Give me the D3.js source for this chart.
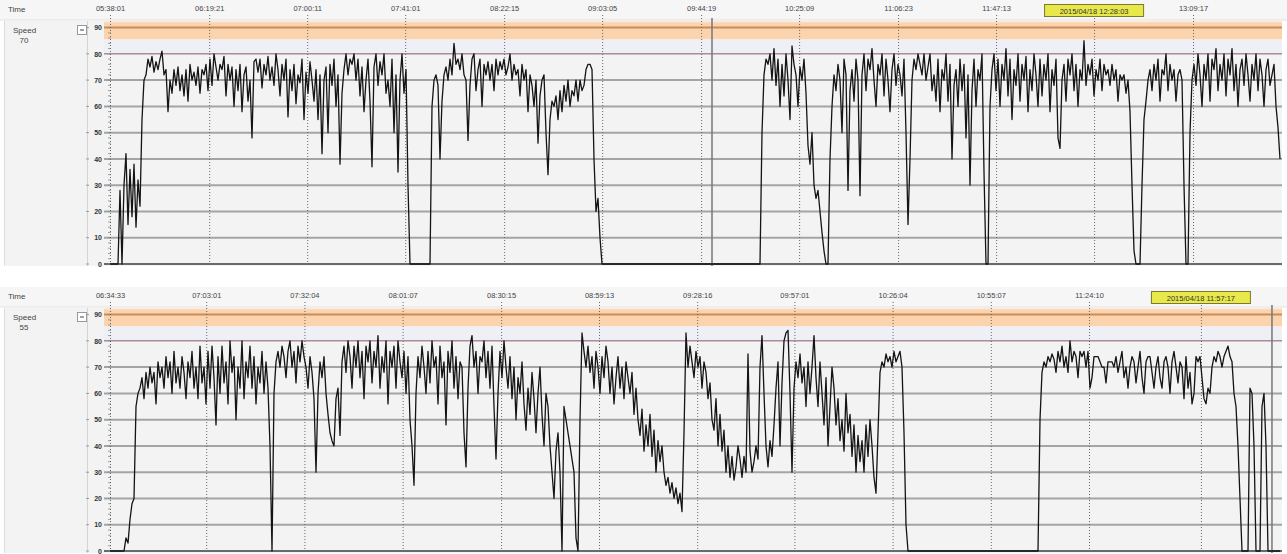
<!DOCTYPE html>
<html>
<head>
<meta charset="utf-8">
<script src="https://cdn.jsdelivr.net/npm/d3@7"></script>
<style>
  body { margin: 0; background: #fff; }
  text { font-family: "Liberation Sans", Arial, sans-serif; }
</style>
</head>
<body>
<div id="chart"></div>
<script>
// speed log, panel 1: one sample every 50 s from 05:38:01
const startA = '05:38:01';
const stepA = 50;
const speedA = [
  0,0,0,0,0,
  28,0,30,42,15,36,18,38,14,32,22,55,70,
  72,78,75,79,73,77,74,78,81,72,
  74,58,70,65,74,68,75,66,72,64,
  74,62,76,70,73,68,75,65,74,72,
  76,66,78,68,80,75,70,76,74,79,
  64,76,70,75,60,74,66,76,58,72,
  75,62,70,48,77,78,73,78,67,76,
  72,79,70,75,68,80,74,64,76,70,
  78,56,74,66,76,61,72,69,78,55,
  73,65,77,70,62,74,55,72,42,70,
  75,50,76,68,78,60,72,38,65,74,
  80,72,78,76,80,70,78,64,75,58,
  70,78,62,37,75,80,68,77,72,80,
  65,70,60,78,50,72,35,70,80,65,
  74,30,
  0,0,0,0,0,0,0,0,0,0,0,
  60,70,72,68,40,62,72,75,70,78,
  72,84,76,78,74,80,72,70,47,68,
  78,80,66,74,78,60,76,72,77,70,
  76,66,78,72,77,74,78,72,75,80,
  70,76,72,74,64,76,70,74,58,72,
  68,60,70,46,64,70,72,50,34,55,
  62,60,64,55,66,58,68,62,70,60,
  66,64,70,62,70,66,68,74,76,76,
  74,40,20,25,10,
  0,0,0,0,0,0,0,0,0,0, 0,0,0,0,0,0,0,0,0,0,
  0,0,0,0,0,0,0,0,0,0, 0,0,0,0,0,0,0,0,0,0,
  0,0,0,0,0,0,0,0,0,0, 0,0,0,0,0,0,0,0,0,0,
  0,0,0,0,0,0,0,0,0,0, 0,0,0,0,0,0,0,0,0,0,
  50,72,78,76,80,70,82,68,78,60,
  76,64,80,70,55,83,76,72,60,75,
  70,78,65,45,38,50,30,25,28,20,
  12,5,0,0,40,60,72,66,76,70,
  50,78,72,28,66,74,62,78,70,26,
  72,80,66,78,74,82,70,60,76,72,
  80,64,78,70,58,74,80,68,76,72,
  64,78,50,15,40,70,78,74,80,76,
  72,80,70,75,80,66,72,62,78,58,
  74,70,80,62,76,40,68,74,60,78,
  66,76,48,72,30,66,78,60,74,70,
  80,35,0,0,60,74,80,66,78,60,
  76,70,82,64,78,55,74,68,80,62,
  76,70,79,58,74,66,80,72,60,78,
  64,76,70,80,58,74,68,78,48,44,
  70,76,62,78,72,80,66,76,60,74,
  70,85,68,76,72,78,64,74,70,78,
  66,76,72,74,68,76,70,74,62,72,
  70,72,65,70,58,30,5,0,0,0,
  30,55,62,70,74,66,76,70,78,62,
  74,72,80,66,76,70,74,62,72,74,
  70,30,0,0,50,70,76,68,80,72,
  60,76,70,80,62,78,74,82,66,76,
  70,80,64,78,72,82,66,76,60,74,
  78,68,80,72,62,76,70,80,66,78,
  72,60,74,78,68,72,76,60,52,40
];
const ticksA = ['05:38:01','06:19:21','07:00:11','07:41:01','08:22:15','09:03:05',
                '09:44:19','10:25:09','11:06:23','11:47:13','13:09:17'];
const markA = '2015/04/18 12:28:03';
const cursorA = '09:48:51';
const currentA = '70';

// speed log, panel 2: one sample every 35.5 s from 06:34:33
const startB = '06:34:33';
const stepB = 35.5;
const speedB = [
  0,0,0,0,0,0,0,0,
  5,3,12,18,20,55,60,62,
  66,58,68,62,70,64,68,56,72,66,
  70,62,74,66,72,60,76,64,70,62,
  74,68,58,72,66,76,62,70,58,78,
  64,70,56,76,62,78,66,48,74,60,
  78,64,72,56,80,68,74,50,70,62,
  80,58,72,66,78,62,74,56,70,64,
  76,60,72,62,40,0,60,72,76,70,
  78,74,66,76,80,70,76,64,78,72,
  80,74,70,62,74,68,58,30,60,72,
  66,74,60,52,45,42,40,58,62,44,
  72,78,68,80,74,62,78,70,80,66,
  76,58,78,72,80,64,76,70,82,62,
  74,68,80,56,76,70,78,62,80,72,
  66,76,60,74,50,40,25,60,74,66,
  78,70,60,76,64,80,70,74,56,78,
  66,72,48,76,68,80,62,74,58,72,
  70,45,32,62,78,82,70,76,60,74,
  72,80,66,76,62,78,55,35,60,76,
  66,80,70,62,74,58,70,50,66,60,
  72,56,46,62,52,68,58,45,60,70,
  52,40,60,55,40,30,20,38,45,30,
  0,55,50,45,40,35,30,5,0,50,
  83,76,70,78,68,74,62,76,70,60,
  74,66,78,72,60,70,56,66,74,62,
  70,58,72,66,60,68,52,62,50,44,
  54,38,48,40,52,36,46,30,42,34,
  40,30,25,28,22,26,20,24,18,22,
  15,45,83,70,78,72,66,76,70,74,
  62,72,68,58,64,50,46,58,40,52,
  38,46,30,40,28,36,27,32,40,35,
  28,36,30,75,38,30,34,40,35,70,
  82,60,40,32,42,36,48,62,72,40,
  64,80,83,84,60,30,62,72,66,75,
  64,70,55,72,60,70,82,66,55,72,
  60,48,66,40,55,70,62,48,58,42,
  50,38,60,45,52,36,48,30,44,34,
  42,30,48,36,50,40,28,22,45,68,
  72,70,75,72,74,70,76,72,74,76,
  70,45,10,
  0,0,0,0,0,0,0,0,0,0, 0,0,0,0,0,0,0,0,0,0,
  0,0,0,0,0,0,0,0,0,0, 0,0,0,0,0,0,0,0,0,0,
  0,0,0,0,0,0,0,0,0,0, 0,0,0,0,0,0,0,0,0,0,
  0,0,0,0,0,0,
  50,68,72,70,74,72,75,73,68,76,
  72,78,70,74,68,80,72,76,74,66,
  76,74,76,70,76,62,66,74,74,74,
  72,70,70,64,72,72,72,70,74,68,
  72,76,66,70,62,70,74,72,64,70,
  76,66,60,72,74,74,68,62,70,74,
  66,62,72,74,70,60,72,76,70,64,
  72,70,58,74,62,68,56,60,74,72,
  74,66,58,56,62,60,70,74,72,76,
  74,70,74,76,78,74,72,60,55,40,
  20,0,0,0,0,62,60,40,0,0,
  0,55,60,40,0,0,0,0,0,0,0
];
const ticksB = ['06:34:33','07:03:01','07:32:04','08:01:07','08:30:15','08:59:13',
                '09:28:16','09:57:01','10:26:04','10:55:07','11:24:10'];
const markB = '2015/04/18 11:57:17';
const cursorB = '12:18:18';
const currentB = '55';

const gridVals = [0, 10, 20, 30, 40, 50, 60, 70];
const axisVals = [0, 10, 20, 30, 40, 50, 60, 70, 80, 90];

const W = 1287, H = 554;
const parse = d3.timeParse('%H:%M:%S');

const svg = d3.select('#chart').append('svg')
    .attr('width', W).attr('height', H);

function drawPanel(top, p) {
    const g = svg.append('g');
    const t0 = parse(p.start);
    const tAt = i => new Date(t0.getTime() + i * p.step * 1000);
    const x = d3.scaleTime()
        .domain([t0, tAt(p.speeds.length - 1)])
        .range([110, 1280]);
    const y = d3.scaleLinear().domain([0, 92.5]).range([top + 264, top + 21]);

    // header strip
    g.append('rect').attr('x', 0).attr('y', top).attr('width', W).attr('height', 20)
        .attr('fill', '#f6f6f7');
    g.append('line').attr('x1', 0).attr('x2', W).attr('y1', top + 20).attr('y2', top + 20)
        .attr('stroke', '#e2e2e2');
    g.append('text').attr('x', 8).attr('y', top + 12)
        .attr('font-size', 8).attr('fill', '#444').text('Time');

    // left label block
    g.append('rect').attr('x', 4).attr('y', top + 21).attr('width', 83).attr('height', 245)
        .attr('fill', '#f3f3f3');
    g.append('line').attr('x1', 4.5).attr('x2', 4.5).attr('y1', top + 21).attr('y2', top + 266)
        .attr('stroke', '#dedede');
    g.append('line').attr('x1', 87.5).attr('x2', 87.5).attr('y1', top + 21).attr('y2', top + 266)
        .attr('stroke', '#d4d4d4');
    g.append('text').attr('x', 13).attr('y', top + 33)
        .attr('font-size', 8).attr('fill', '#444').text('Speed');
    g.append('text').attr('x', 24).attr('y', top + 43).attr('text-anchor', 'middle')
        .attr('font-size', 8).attr('fill', '#444').text(p.current);
    g.append('rect').attr('x', 77.5).attr('y', top + 25.5).attr('width', 9).attr('height', 9)
        .attr('fill', '#fff').attr('stroke', '#999');
    g.append('line').attr('x1', 80).attr('x2', 84).attr('y1', top + 30).attr('y2', top + 30)
        .attr('stroke', '#444');

    // plot background and limit bands
    g.append('rect').attr('x', 88).attr('y', y(92.5)).attr('width', 1194)
        .attr('height', y(0) - y(92.5) + 2).attr('fill', '#f3f3f3');
    g.append('rect').attr('x', 104).attr('y', y(92.5)).attr('width', 1178)
        .attr('height', y(85.5) - y(92.5)).attr('fill', '#fde9d6');
    g.append('rect').attr('x', 104).attr('y', y(92)).attr('width', 1178)
        .attr('height', y(85.5) - y(92)).attr('fill', '#fbd4ae');
    g.append('rect').attr('x', 104).attr('y', y(85.5)).attr('width', 1178)
        .attr('height', y(80) - y(85.5)).attr('fill', '#eff0f6');

    g.selectAll('.grid').data(gridVals).join('line')
        .attr('x1', 104).attr('x2', 1282)
        .attr('y1', d => y(d)).attr('y2', d => y(d))
        .attr('stroke', d => d === 0 ? '#6a6a6a' : '#a4a4a4')
        .attr('stroke-width', 2);
    g.append('line').attr('x1', 104).attr('x2', 1282).attr('y1', y(80)).attr('y2', y(80))
        .attr('stroke', '#a98c95').attr('stroke-width', 1.5);
    g.append('line').attr('x1', 104).attr('x2', 1282).attr('y1', y(90)).attr('y2', y(90))
        .attr('stroke', '#c98b5e').attr('stroke-width', 2);

    // minor ticks along the left edge
    g.selectAll('.minor').data(d3.range(0, 92, 2)).join('line')
        .attr('x1', 108).attr('x2', 111)
        .attr('y1', d => y(d)).attr('y2', d => y(d))
        .attr('stroke', '#8a8a8a').attr('stroke-width', 0.8);
    g.selectAll('.dash').data(axisVals).join('line')
        .attr('x1', 86).attr('x2', 89)
        .attr('y1', d => y(d)).attr('y2', d => y(d))
        .attr('stroke', '#999');

    const ay = g.append('g').attr('transform', 'translate(103,0)')
        .call(d3.axisLeft(y).tickValues(axisVals).tickSize(0).tickPadding(1));
    ay.select('.domain').remove();
    ay.selectAll('text').attr('font-size', 7).attr('fill', '#333')
        .attr('font-weight', 'bold');

    // time ticks and dotted verticals
    const tickTimes = p.ticks.map(parse);
    g.selectAll('.vgrid').data(tickTimes).join('line')
        .attr('x1', d => x(d) + 0.5).attr('x2', d => x(d) + 0.5)
        .attr('y1', top + 15).attr('y2', y(0))
        .attr('stroke', '#666').attr('stroke-dasharray', '1,2');
    const ax = g.append('g').attr('transform', `translate(0,${top + 15})`)
        .call(d3.axisTop(x).tickValues(tickTimes).tickSize(0).tickPadding(4)
            .tickFormat(d3.timeFormat('%H:%M:%S')));
    ax.select('.domain').remove();
    ax.selectAll('text').attr('font-size', 7.5).attr('fill', '#444');

    // highlighted time
    const mt = parse(p.mark.split(' ')[1]);
    g.append('line').attr('x1', x(mt) + 0.5).attr('x2', x(mt) + 0.5)
        .attr('y1', top + 15).attr('y2', y(0))
        .attr('stroke', '#666').attr('stroke-dasharray', '1,2');
    g.append('rect').attr('x', x(mt) - 49.5).attr('y', top + 4.5).attr('width', 99).attr('height', 12)
        .attr('fill', '#e9e84a').attr('stroke', '#7c7a2c');
    g.append('text').attr('x', x(mt)).attr('y', top + 13.5).attr('text-anchor', 'middle')
        .attr('font-size', 7.5).attr('fill', '#333').text(p.mark);

    // cursor
    const ct = parse(p.cursor);
    g.append('line').attr('x1', x(ct)).attr('x2', x(ct))
        .attr('y1', top + 18).attr('y2', y(0) + 2)
        .attr('stroke', '#777').attr('stroke-width', 1.5);

    // speed trace
    const line = d3.line()
        .x((d, i) => x(tAt(i)))
        .y(d => y(d));
    g.append('path').datum(p.speeds)
        .attr('fill', 'none').attr('stroke', '#141414').attr('stroke-width', 1.3)
        .attr('stroke-linejoin', 'round')
        .attr('d', line);
}

drawPanel(0, { start: startA, step: stepA, speeds: speedA, ticks: ticksA,
               mark: markA, cursor: cursorA, current: currentA });
drawPanel(287, { start: startB, step: stepB, speeds: speedB, ticks: ticksB,
                 mark: markB, cursor: cursorB, current: currentB });
</script>
</body>
</html>
